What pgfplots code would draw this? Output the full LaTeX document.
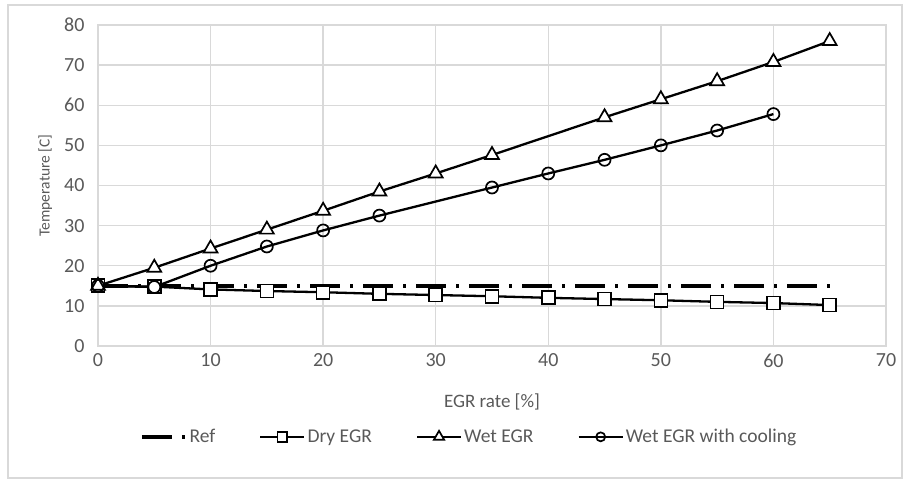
\documentclass[border=0pt]{standalone}
\usepackage{pgfplots}
\pgfplotsset{compat=1.18}
\usepackage{fontspec}
\setmainfont{Carlito}
\definecolor{txtgray}{HTML}{595959}
\definecolor{gridgray}{HTML}{D9D9D9}
\begin{document}
\begin{tikzpicture}[x=1pt,y=1pt]
\path[use as bounding box] (0,0) rectangle (903,479);
\draw[gridgray, line width=1.2pt] (8,1) rectangle (902,474);
\begin{axis}[
  at={(98pt,133pt)}, anchor=south west,
  scale only axis, width=788pt, height=321pt,
  xmin=0, xmax=70, ymin=0, ymax=80,
  xtick={0,10,...,70}, ytick={0,10,...,80},
  grid=major,
  major grid style={gridgray, line width=1.3pt},
  axis line style={gridgray, line width=1.3pt},
  tick style={draw=none},
  /pgf/number format/assume math mode=true,
  ticklabel style={font=\fontsize{20}{23}\selectfont, text=txtgray},
  xticklabel style={yshift=-4pt},
  yticklabel style={xshift=-10pt},
  xlabel={EGR rate [\%]},
  ylabel={Temperature [C]},
  xlabel style={font=\fontsize{19}{22}\selectfont, text=txtgray, at={(axis description cs:0.5,-0.174)}, anchor=center},
  ylabel style={font=\fontsize{15.5}{18}\selectfont, text=txtgray, at={(axis description cs:-0.067,0.5)}, anchor=center},
  legend columns=4,
  legend style={draw=none, fill=none, at={(0.471,-0.283)}, anchor=center,
    font=\fontsize{19.5}{22}\selectfont, text=txtgray,
    /tikz/every even column/.append style={column sep=42pt}},
  legend image code/.code={\draw[#1, mark repeat=2, mark phase=2, every mark/.append style={scale=0.75}] plot coordinates {(0pt,0pt) (22pt,0pt) (44pt,0pt)};},
  every axis plot/.append style={black, line width=2.3pt},
]
\addplot[line width=3.5pt, line cap=butt, dash pattern=on 30pt off 10pt on 3pt off 10pt] coordinates {(0,15) (65,15)};
\addlegendentry{Ref}
\addplot[mark=square*, mark size=6.5pt, mark options={fill=white, line width=1.7pt, solid}] coordinates {
(0,15) (5,14.8) (10,14.1) (15,13.7) (20,13.4) (25,13.0) (30,12.7) (35,12.4) (40,12.0) (45,11.7) (50,11.4) (55,11.0) (60,10.7) (65,10.2)};
\addlegendentry{Dry EGR}
\addplot[mark=triangle*, mark size=8pt, mark options={fill=white, line width=1.7pt, solid}] coordinates {
(0,15) (5,19.5) (10,24.3) (15,29.0) (20,33.7) (25,38.5) (30,43.0) (35,47.6) (45,57.0) (50,61.5) (55,66.0) (60,70.8) (65,76.0)};
\addlegendentry{Wet EGR}
\addplot[mark=o, mark size=6pt, mark options={fill=white, line width=1.7pt, solid}] coordinates {
(0,15) (5,14.7) (10,20.0) (15,24.8) (20,28.8) (25,32.5) (35,39.5) (40,43.0) (45,46.4) (50,50.0) (55,53.7) (60,57.8)};
\addlegendentry{Wet EGR with cooling}
\end{axis}
\end{tikzpicture}
\end{document}
